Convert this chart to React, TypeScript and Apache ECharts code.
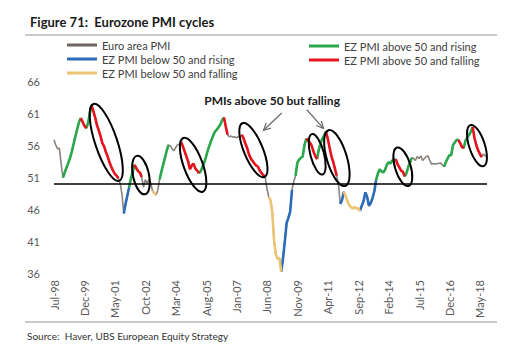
import React, { useEffect, useRef } from "react";
import * as echarts from "echarts";

// Euro area composite PMI, monthly from Jul-98 to Sep-18
const pmi1998to2003 = [
  56.8, 56.0, 55.4, 55.5, 53.0, 50.9, 51.7, 52.5, 53.2, 54.0, 55.0, 56.2,
  57.4, 58.5, 59.6, 60.2, 59.6, 59.0, 58.6, 59.4, 60.9, 62.2, 61.3, 60.3,
  59.1, 58.3, 57.4, 56.3, 55.8, 54.9, 54.2, 53.3, 52.6, 52.0, 51.5, 51.2,
  50.8, 50.0, 48.3, 45.3, 46.8, 48.1, 49.4, 50.8, 51.8, 52.9, 52.4, 51.9,
  51.7, 51.0, 49.4, 50.6, 50.0, 50.6, 50.1, 48.9, 48.5, 48.2, 48.9, 50.6,
];
const pmi2003to2008 = [
  51.8, 52.9, 54.0, 55.1, 56.0, 55.9, 55.4, 55.1, 55.6, 56.0, 56.1, 56.5,
  55.8, 55.0, 54.2, 53.4, 52.2, 52.8, 53.1, 52.3, 52.0, 51.6, 51.9, 52.6,
  53.3, 54.2, 55.2, 56.0, 56.8, 57.5, 58.1, 58.4, 58.8, 59.2, 59.9, 60.3,
  58.9, 57.6, 57.3, 57.4, 57.2, 57.3, 57.1, 57.3, 57.2, 57.6, 57.0, 56.2,
  55.5, 54.5, 53.9, 53.5, 53.1, 52.8, 52.6, 52.0, 51.6, 51.3, 51.0, 49.2,
];
const pmi2008to2013 = [
  47.9, 47.4, 45.5, 41.1, 38.9, 38.2, 38.3, 36.2, 38.3, 40.9, 43.8, 44.6,
  45.6, 49.0, 50.3, 51.2, 53.2, 53.7, 54.0, 54.2, 56.0, 57.0, 56.7, 56.4,
  55.9, 55.0, 54.3, 53.8, 55.3, 56.3, 57.0, 57.5, 58.1, 57.0, 55.6, 54.3,
  53.4, 52.3, 51.2, 49.8, 46.8, 47.4, 48.7, 48.0, 47.2, 46.6, 46.3, 46.1,
  46.3, 46.1, 46.1, 45.7, 46.5, 47.2, 48.6, 47.9, 46.5, 46.9, 47.7, 48.7,
];
const pmi2013to2018 = [
  50.5, 51.5, 52.2, 51.9, 51.7, 52.1, 52.9, 53.3, 53.1, 53.6, 53.5, 53.8,
  53.0, 52.5, 52.0, 51.8, 51.1, 51.6, 52.6, 53.3, 54.0, 53.9, 53.6, 54.2,
  53.9, 54.3, 53.6, 53.9, 54.2, 54.3, 53.6, 53.0, 53.1, 53.0, 53.1, 53.1,
  53.2, 52.9, 52.6, 53.3, 53.9, 54.4, 54.4, 56.0, 56.4, 56.8, 56.8, 56.3,
  55.7, 55.5, 56.7, 57.2, 57.6, 58.1, 58.8, 57.1, 56.0, 55.2, 54.6, 54.1,
  54.6, 54.3, 54.1,
];
const pmi = [...pmi1998to2003, ...pmi2003to2008, ...pmi2008to2013, ...pmi2013to2018];

// Phase of each month as runs: n = neutral, g = above 50 rising, r = above 50 falling,
// b = below 50 rising, y = below 50 falling
const phaseRuns: [string, number][] = [
  ["n", 6], ["g", 10], ["r", 3], ["g", 3], ["r", 15], ["n", 3], ["b", 3], ["g", 3],
  ["r", 4], ["n", 6], ["y", 2], ["n", 2], ["g", 5], ["n", 7], ["r", 10], ["g", 14],
  ["r", 2], ["n", 8], ["r", 13], ["n", 2], ["y", 7], ["b", 6], ["n", 2], ["g", 6],
  ["r", 6], ["g", 5], ["r", 6], ["n", 2], ["b", 2], ["y", 9], ["b", 9], ["g", 11],
  ["r", 5], ["g", 4], ["n", 18], ["g", 8], ["r", 3], ["g", 5], ["r", 5], ["n", 3],
];

const MONTHS = ["Jan", "Feb", "Mar", "Apr", "May", "Jun", "Jul", "Aug", "Sep", "Oct", "Nov", "Dec"];
const START_MONTH = 6; // Jul
const START_YEAR = 1998;
const tickLabels = [
  "Jul-98", "Dec-99", "May-01", "Oct-02", "Mar-04", "Aug-05", "Jan-07", "Jun-08",
  "Nov-09", "Apr-11", "Sep-12", "Feb-14", "Jul-15", "Dec-16", "May-18",
];

const categories = pmi.map((_, i) => {
  const m = START_MONTH + i;
  const y = (START_YEAR + Math.floor(m / 12)) % 100;
  return `${MONTHS[m % 12]}-${String(y).padStart(2, "0")}`;
});

const phases: string[] = [];
phaseRuns.forEach(([p, n]) => {
  for (let k = 0; k < n; k++) phases.push(p);
});

const seriesDefs = [
  { code: "b", name: "EZ PMI below 50 and rising", color: "#2c6cb8" },
  { code: "y", name: "EZ PMI below 50 and falling", color: "#ecc473" },
  { code: "g", name: "EZ PMI above 50 and rising", color: "#2aa84c" },
  { code: "r", name: "EZ PMI above 50 and falling", color: "#e8121c" },
];

// Annotations in data coordinates: [index, value] ends of the ellipse major axis
const ellipses = [
  { from: [22.0, 62.4], to: [36.4, 50.4], minor: 11 },
  { from: [46.3, 54.3], to: [50.9, 48.3], minor: 8 },
  { from: [72.3, 57.1], to: [83.2, 48.7], minor: 9.5 },
  { from: [105.3, 59.4], to: [117.6, 51.0], minor: 9.5 },
  { from: [144.1, 57.7], to: [150.1, 51.4], minor: 6.8 },
  { from: [153.4, 58.3], to: [162.8, 49.6], minor: 10 },
  { from: [191.7, 55.6], to: [198.2, 49.6], minor: 7.8 },
  { from: [232.7, 59.1], to: [240.1, 52.7], minor: 7.8 },
];
const arrows = [
  { from: [127.3, 61.0], to: [117.1, 58.3] },
  { from: [141.3, 61.5], to: [150.6, 58.6] },
];
const noteText = "PMIs above 50 but falling";
const notePos = [121.9, 63.0];

const FONT = "Lato, 'Open Sans', sans-serif";

export default function App() {
  const ref = useRef<HTMLDivElement>(null);
  useEffect(() => {
    document.body.style.margin = "0";
    const chart = echarts.init(ref.current!, null, { renderer: "svg" });
    const N = pmi.length;
    const colored = seriesDefs.map((d) => ({
      name: d.name,
      type: "line",
      data: pmi.map((v, i) =>
        phases[i] === d.code || phases[i + 1] === d.code ? v : null
      ),
      symbol: "none",
      showSymbol: false,
      connectNulls: false,
      lineStyle: { color: d.color, width: 2.6 },
      itemStyle: { color: d.color },
      z: 4,
    }));
    const legendCommon = {
      orient: "vertical",
      icon: "rect",
      itemWidth: 30,
      itemHeight: 3,
      itemGap: 0,
      padding: 0,
      selectedMode: false,
      textStyle: { fontSize: 11, lineHeight: 14, color: "#404040", fontFamily: FONT },
    };
    const option: any = {
      animation: false,
      backgroundColor: "#ffffff",
      textStyle: { fontFamily: FONT },
      title: [
        {
          text: "Figure 71:  Eurozone PMI cycles",
          left: 25,
          top: 10,
          textStyle: { fontSize: 13, fontWeight: "bold", color: "#1a1a1a", fontFamily: FONT },
        },
        {
          text: "Source:  Haver, UBS European Equity Strategy",
          left: 22,
          top: 326,
          textStyle: { fontSize: 10, fontWeight: "normal", color: "#333", fontFamily: FONT },
        },
      ],
      legend: [
        {
          ...legendCommon,
          data: ["Euro area PMI", "EZ PMI below 50 and rising", "EZ PMI below 50 and falling"],
          left: 67,
          top: 38,
        },
        {
          ...legendCommon,
          data: ["EZ PMI above 50 and rising", "EZ PMI above 50 and falling"],
          left: 309,
          top: 39,
        },
      ],
      grid: { left: 54, right: 36, top: 81, bottom: 87, containLabel: false },
      xAxis: {
        type: "category",
        data: categories,
        boundaryGap: false,
        axisLine: { show: false },
        axisTick: { show: false },
        splitLine: { show: false },
        axisLabel: {
          rotate: 90,
          interval: (idx: number, val: string) => tickLabels.includes(val),
          margin: 7,
          fontSize: 11,
          color: "#595959",
          fontFamily: FONT,
        },
      },
      yAxis: {
        type: "value",
        min: 36,
        max: 66,
        interval: 5,
        axisLine: { show: false },
        axisTick: { show: false },
        splitLine: { show: false },
        axisLabel: { fontSize: 11, color: "#595959", margin: 14, fontFamily: FONT },
      },
      series: [
        {
          name: "Euro area PMI",
          type: "line",
          data: pmi,
          symbol: "none",
          showSymbol: false,
          lineStyle: { color: "#8a837e", width: 1.6 },
          itemStyle: { color: "#6e6560" },
          z: 3,
          markLine: {
            silent: true,
            symbol: "none",
            label: { show: false },
            lineStyle: { color: "#000", width: 1.6, type: "solid" },
            data: [{ yAxis: 50 }],
          },
        },
        ...colored,
      ],
    };
    chart.setOption(option);

    const toPx = (i: number, v: number) => {
      const a = chart.convertToPixel({ gridIndex: 0 }, [0, v]) as number[];
      const b = chart.convertToPixel({ gridIndex: 0 }, [N - 1, v]) as number[];
      return [a[0] + ((b[0] - a[0]) * i) / (N - 1), a[1]];
    };

    const graphics: any[] = [
      {
        type: "line",
        shape: { x1: 25, y1: 35, x2: 497, y2: 35 },
        style: { stroke: "#c9c9c9", lineWidth: 2 },
      },
      {
        type: "line",
        shape: { x1: 25, y1: 322, x2: 497, y2: 322 },
        style: { stroke: "#c9c9c9", lineWidth: 2 },
      },
    ];
    ellipses.forEach((e) => {
      const p1 = toPx(e.from[0], e.from[1]);
      const p2 = toPx(e.to[0], e.to[1]);
      const dx = p2[0] - p1[0];
      const dy = p2[1] - p1[1];
      const len = Math.sqrt(dx * dx + dy * dy) / 2;
      graphics.push({
        type: "ellipse",
        x: (p1[0] + p2[0]) / 2,
        y: (p1[1] + p2[1]) / 2,
        rotation: Math.atan2(dx, dy),
        shape: { cx: 0, cy: 0, rx: e.minor, ry: len },
        style: { fill: "none", stroke: "#000", lineWidth: 2 },
        z: 10,
      });
    });
    arrows.forEach((a) => {
      const t = toPx(a.from[0], a.from[1]);
      const h = toPx(a.to[0], a.to[1]);
      const dx = h[0] - t[0];
      const dy = h[1] - t[1];
      const L = Math.sqrt(dx * dx + dy * dy);
      const ux = dx / L, uy = dy / L;
      const px = -uy, py = ux;
      graphics.push({
        type: "line",
        shape: { x1: t[0], y1: t[1], x2: h[0], y2: h[1] },
        style: { stroke: "#6f6f6f", lineWidth: 1.3 },
        z: 10,
      });
      graphics.push({
        type: "polyline",
        shape: {
          points: [
            [h[0] - ux * 7 + px * 3.5, h[1] - uy * 7 + py * 3.5],
            [h[0], h[1]],
            [h[0] - ux * 7 - px * 3.5, h[1] - uy * 7 - py * 3.5],
          ],
        },
        style: { stroke: "#6f6f6f", lineWidth: 1.3, fill: "none" },
        z: 10,
      });
    });
    const np = toPx(notePos[0], notePos[1]);
    graphics.push({
      type: "text",
      x: np[0],
      y: np[1],
      style: {
        text: noteText,
        fontSize: 12,
        fontWeight: "bold",
        fontFamily: FONT,
        fill: "#1a1a1a",
        align: "center",
        verticalAlign: "middle",
      },
      z: 10,
    });
    chart.setOption({ graphic: graphics });
    return () => chart.dispose();
  }, []);
  return <div ref={ref} style={{ width: 523, height: 360 }} />;
}
